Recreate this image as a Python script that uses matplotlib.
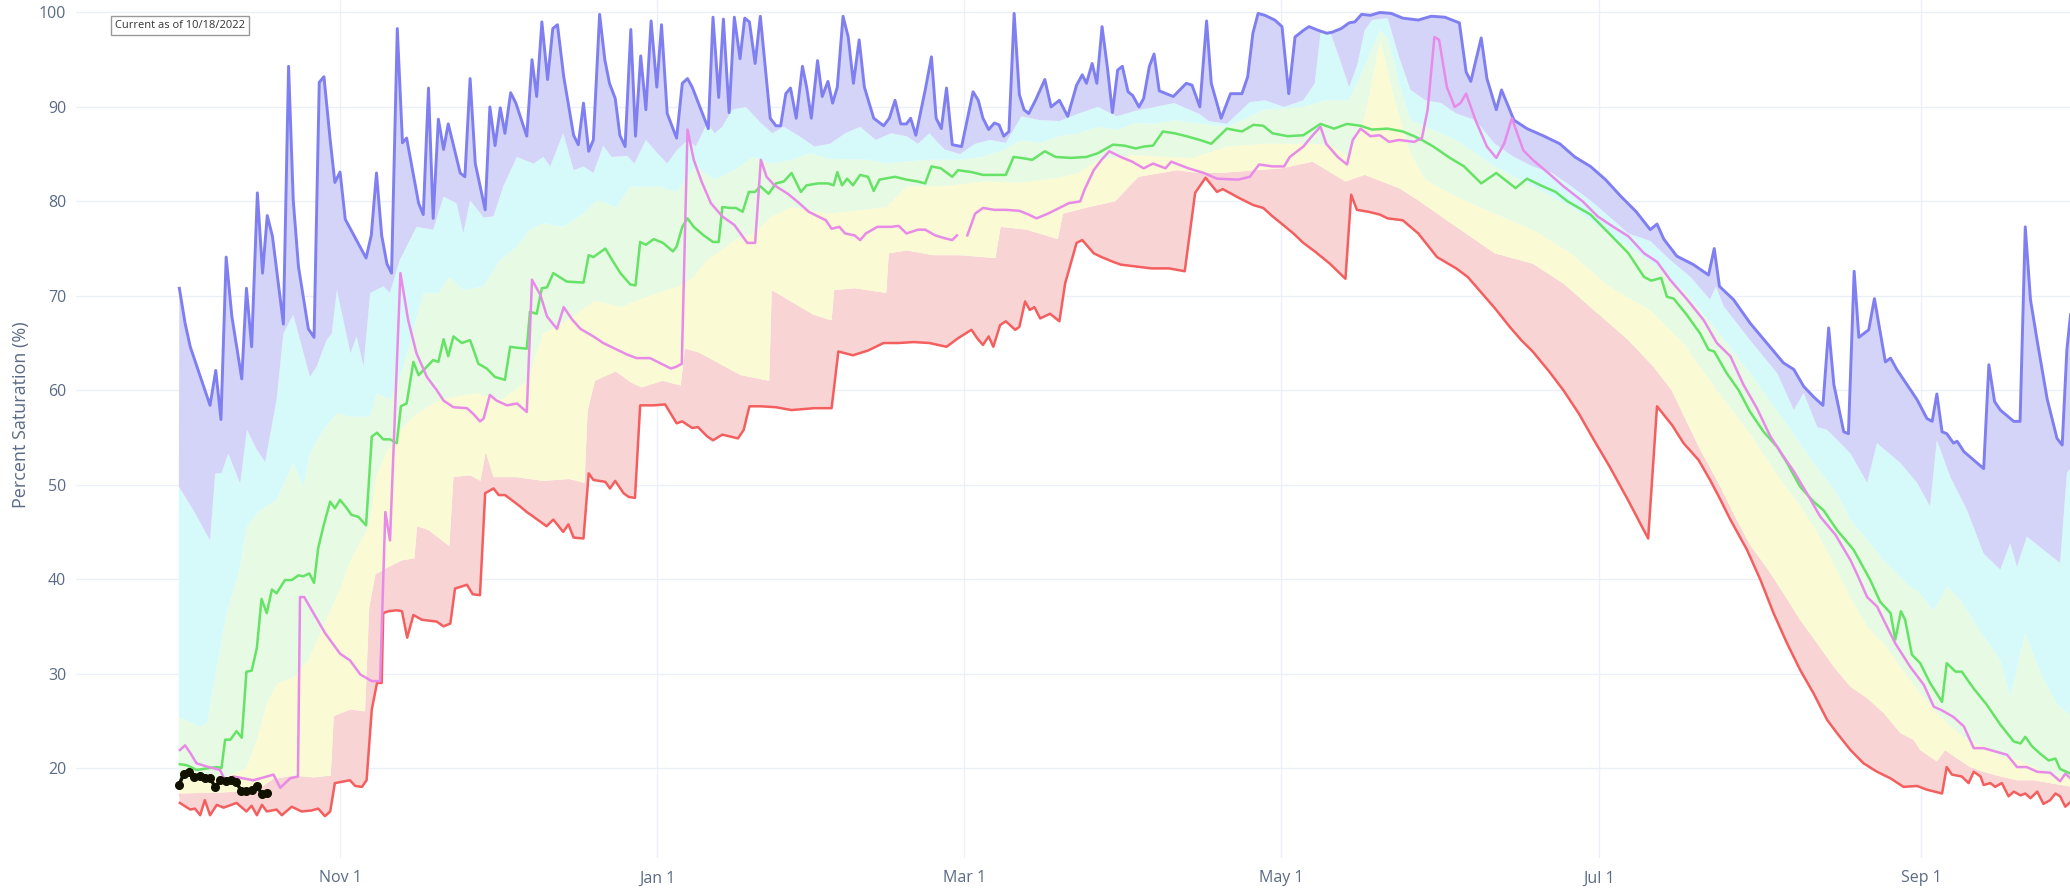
import numpy as np
import matplotlib
matplotlib.use("Agg")
import matplotlib.pyplot as plt
import matplotlib.dates as mdates

plt.rcParams['font.family'] = ['Open Sans', 'DejaVu Sans']

# day 0 = Oct 1 of the water year, values in percent saturation
START = np.datetime64('2022-10-01')

max_line = [(0.1, 70.8), (1.2, 67.1), (2.2, 64.6), (6.0, 58.4), (7.1, 62.1), (8.1, 56.9), (9.1, 74.1), (10.2, 67.8),
            (12.1, 61.2), (13.0, 70.8), (14.0, 64.6), (15.1, 80.9), (16.1, 72.4), (17.0, 78.5), (18.0, 76.3),
            (20.1, 67.0), (21.1, 94.3), (22.0, 80.1), (23.0, 73.1), (24.9, 66.5), (26.0, 65.6), (27.0, 92.6),
            (27.9, 93.2), (29.1, 86.5), (30.0, 82.0), (31.0, 83.1), (32.0, 78.1), (36.0, 74.0), (37.0, 76.4),
            (38.0, 83.0), (39.0, 76.4), (40.0, 73.4), (40.9, 72.4), (42.0, 98.3), (43.0, 86.2), (43.8, 86.7),
            (46.1, 79.8), (47.0, 78.6), (48.0, 92.0), (48.9, 78.2), (49.9, 88.7), (50.9, 85.5), (51.8, 88.2),
            (54.1, 83.0), (55.0, 82.6), (56.0, 93.0), (57.0, 84.0), (58.9, 79.1), (59.8, 90.0), (60.8, 85.9),
            (61.8, 89.9), (62.7, 87.2), (63.8, 91.5), (64.8, 90.4), (66.9, 86.9), (67.9, 95.0), (68.8, 91.1),
            (69.8, 99.0), (70.9, 92.9), (71.9, 98.3), (72.8, 98.7), (74.0, 93.2), (75.9, 87.0), (76.8, 86.0),
            (77.8, 90.4), (78.8, 85.3), (79.7, 86.5), (80.9, 99.8), (81.9, 95.0), (82.8, 92.5), (83.9, 90.9),
            (84.8, 87.0), (85.8, 85.8), (86.9, 98.2), (87.8, 86.9), (88.8, 95.4), (89.8, 89.7), (90.8, 99.1),
            (91.9, 92.1), (92.8, 98.7), (93.9, 89.3), (95.7, 86.7), (96.8, 92.5), (97.8, 93.0), (98.7, 92.1),
            (101.8, 87.7), (102.7, 99.5), (103.8, 91.0), (104.7, 99.3), (105.8, 89.4), (106.8, 99.5),
            (107.9, 95.1), (108.8, 99.4), (109.7, 99.0), (110.8, 94.6), (111.8, 99.6), (113.7, 88.8),
            (114.8, 88.0), (115.7, 88.0), (116.7, 91.4), (117.6, 92.0), (118.7, 88.8), (119.9, 94.3),
            (120.7, 92.1), (121.6, 88.8), (122.8, 94.9), (123.7, 91.1), (124.8, 92.7), (125.7, 90.4),
            (126.6, 92.1), (127.7, 99.6), (128.7, 97.4), (129.7, 92.5), (130.8, 97.1), (131.8, 92.1),
            (133.6, 88.8), (135.5, 88.0), (136.6, 88.8), (137.7, 90.7), (138.8, 88.2), (139.9, 88.2),
            (140.7, 88.8), (141.7, 87.0), (143.5, 91.8), (144.7, 95.3), (145.6, 88.8), (146.6, 87.7),
            (147.6, 92.0), (148.7, 86.0), (150.5, 85.8), (152.7, 91.6), (153.7, 90.7), (154.6, 88.8),
            (155.7, 87.6), (156.8, 88.3), (157.7, 88.1), (158.6, 86.9), (159.6, 87.4), (160.6, 99.9),
            (161.6, 91.3), (162.5, 89.7), (163.4, 89.3), (164.7, 90.7), (166.5, 92.9), (167.7, 90.0),
            (169.3, 90.7), (170.9, 89.0), (172.6, 92.3), (173.7, 93.4), (174.5, 92.5), (175.6, 94.6),
            (176.5, 92.5), (177.5, 98.5), (178.5, 94.3), (179.5, 89.4), (180.5, 93.9), (181.4, 94.3),
            (182.5, 91.6), (183.4, 91.2), (184.6, 90.0), (185.5, 90.9), (186.6, 94.3), (187.5, 95.6),
            (188.5, 91.7), (191.2, 91.1), (193.7, 92.5), (194.8, 92.3), (196.3, 90.0), (197.6, 99.1),
            (198.5, 92.5), (200.4, 88.8), (202.2, 91.4), (204.4, 91.4), (205.5, 93.2), (206.5, 97.8),
            (207.5, 99.9), (208.8, 99.7), (210.7, 99.2), (212.1, 98.5), (213.4, 91.4), (214.6, 97.4),
            (216.2, 98.1), (217.3, 98.5), (219.1, 98.1), (220.7, 97.8), (221.7, 97.9), (223.5, 98.3),
            (225.0, 98.9), (226.1, 99.0), (227.4, 99.8), (229.1, 99.7), (230.9, 100.0), (233.1, 99.9),
            (235.3, 99.4), (238.3, 99.2), (240.8, 99.6), (243.4, 99.5), (246.2, 98.9), (247.5, 93.7),
            (248.4, 92.7), (250.4, 97.3), (251.5, 93.0), (253.3, 89.7), (254.3, 91.8), (256.7, 88.6),
            (259.2, 87.7), (262.5, 86.9), (265.5, 86.1), (268.4, 84.7), (271.4, 83.7), (274.3, 82.3),
            (277.3, 80.5), (280.2, 78.9), (282.9, 77.0), (284.2, 77.6), (285.5, 76.0), (288.0, 74.2),
            (291.2, 73.3), (294.1, 72.2), (295.2, 75.0), (296.2, 71.0), (298.9, 69.6), (302.1, 67.1),
            (305.3, 65.0), (308.5, 62.9), (310.5, 62.2), (312.4, 60.4), (314.3, 59.3), (316.1, 58.4),
            (317.2, 66.6), (318.2, 60.6), (320.1, 55.6), (321.0, 55.4), (322.1, 72.6), (323.0, 65.6),
            (324.9, 66.4), (326.0, 69.7), (328.1, 63.0), (329.1, 63.4), (330.3, 62.2), (334.2, 59.0),
            (336.1, 57.0), (337.1, 56.7), (338.0, 59.6), (339.0, 55.6), (339.9, 55.4), (341.2, 54.4),
            (341.9, 54.6), (343.2, 53.5), (347.0, 51.7), (348.0, 62.7), (349.1, 58.8), (350.2, 57.9),
            (352.8, 56.7), (354.0, 56.7), (355.0, 77.3), (356.0, 69.6), (357.3, 65.2), (359.2, 59.1),
            (361.1, 54.9), (362.1, 54.2), (363.0, 64.3), (363.7, 68.0)]

min_line = [(0.2, 16.3), (2.2, 15.6), (3.1, 15.7), (4.1, 15.0), (5.0, 16.6), (6.0, 15.0), (7.3, 16.1), (8.6, 15.8),
            (11.1, 16.3), (13.0, 15.4), (14.0, 16.0), (15.0, 15.0), (16.0, 16.1), (16.9, 15.4), (18.8, 15.6),
            (19.8, 15.0), (21.7, 15.9), (23.6, 15.4), (25.5, 15.5), (26.8, 15.7), (28.1, 14.9), (29.1, 15.4),
            (30.0, 18.4), (32.9, 18.7), (33.9, 18.1), (35.2, 18.0), (36.1, 18.7), (37.1, 26.2), (38.1, 29.0),
            (39.0, 29.0), (39.3, 36.4), (40.3, 36.6), (41.9, 36.7), (42.9, 36.6), (43.9, 33.8), (45.1, 36.2),
            (46.7, 35.7), (49.6, 35.5), (50.9, 35.0), (52.2, 35.3), (53.1, 39.0), (55.4, 39.4), (56.5, 38.4),
            (57.9, 38.3), (58.9, 49.1), (60.5, 49.6), (61.5, 48.9), (62.7, 48.9), (63.7, 48.5), (65.6, 47.7),
            (66.9, 47.1), (68.2, 46.6), (70.7, 45.6), (72.0, 46.3), (73.9, 45.0), (74.9, 45.8), (75.9, 44.4),
            (77.8, 44.3), (78.8, 51.2), (79.7, 50.5), (82.0, 50.3), (82.9, 49.6), (83.9, 50.4), (85.5, 49.1),
            (86.5, 48.7), (87.7, 48.6), (88.7, 58.4), (91.3, 58.4), (93.5, 58.5), (94.6, 57.5), (95.7, 56.5),
            (96.8, 56.7), (98.7, 56.0), (99.8, 56.1), (101.6, 55.1), (102.7, 54.7), (104.5, 55.3),
            (107.5, 54.9), (108.6, 55.8), (109.7, 58.3), (111.9, 58.3), (114.8, 58.2), (117.8, 57.9),
            (122.2, 58.1), (125.5, 58.1), (126.8, 64.1), (129.6, 63.7), (132.5, 64.2), (135.5, 65.0),
            (138.4, 65.0), (141.3, 65.1), (144.3, 65.0), (147.6, 64.6), (149.8, 65.5), (152.4, 66.4),
            (153.5, 65.5), (154.6, 64.8), (155.7, 65.7), (156.6, 64.6), (157.9, 66.9), (159.0, 67.3),
            (160.8, 66.4), (161.6, 66.7), (162.7, 69.4), (163.6, 68.5), (164.5, 68.8), (165.6, 67.6),
            (167.5, 68.1), (169.3, 67.3), (170.4, 71.3), (172.6, 75.6), (173.7, 75.9), (175.9, 74.5),
            (177.4, 74.1), (179.6, 73.6), (181.1, 73.3), (184.0, 73.1), (187.0, 72.9), (190.4, 72.9),
            (193.4, 72.6), (195.4, 80.9), (197.4, 82.5), (199.6, 81.0), (200.7, 81.3), (203.7, 80.4),
            (206.6, 79.6), (208.5, 79.3), (210.3, 78.4), (212.1, 77.6), (214.3, 76.6), (216.2, 75.6),
            (218.4, 74.7), (221.3, 73.4), (224.3, 71.8), (225.4, 80.7), (226.5, 79.1), (228.7, 78.9),
            (230.9, 78.6), (232.4, 78.2), (235.3, 78.0), (238.3, 76.6), (241.9, 74.1), (245.6, 72.9),
            (247.8, 72.0), (250.0, 70.6), (253.0, 68.7), (255.9, 66.7), (258.1, 65.3), (260.3, 64.1),
            (263.3, 62.1), (266.2, 60.0), (269.2, 57.5), (272.1, 54.7), (275.0, 52.0), (278.5, 48.5),
            (282.5, 44.3), (284.2, 58.3), (287.1, 56.3), (289.3, 54.4), (292.2, 52.6), (294.4, 50.5),
            (296.4, 48.4), (298.3, 46.3), (301.5, 43.1), (304.1, 39.9), (306.6, 36.4), (309.2, 33.2),
            (311.7, 30.4), (314.3, 27.9), (316.9, 25.1), (318.8, 23.7), (321.4, 21.9), (323.9, 20.5),
            (326.5, 19.6), (329.1, 18.9), (331.6, 18.0), (334.2, 18.1), (336.1, 17.7), (339.0, 17.3),
            (339.9, 20.1), (340.9, 19.3), (342.8, 19.1), (344.1, 18.4), (345.1, 19.6), (346.4, 19.1),
            (347.0, 18.2), (348.3, 18.4), (349.2, 18.0), (350.5, 18.4), (351.8, 17.0), (352.8, 17.5),
            (354.1, 17.1), (355.0, 17.3), (356.0, 16.8), (357.3, 17.5), (358.5, 16.2), (359.8, 16.6),
            (360.8, 17.3), (361.7, 17.0), (362.7, 15.9), (363.7, 16.4)]

mean_line = [(0.2, 20.4), (1.5, 20.3), (3.4, 19.8), (6.0, 20.0), (7.3, 20.1), (8.2, 20.0), (8.9, 23.0), (9.9, 23.0),
             (11.1, 23.9), (12.1, 23.2), (13.0, 30.2), (14.0, 30.3), (15.0, 32.7), (15.9, 37.9), (16.9, 36.4),
             (17.9, 38.9), (18.8, 38.5), (20.4, 39.9), (21.7, 39.9), (23.0, 40.4), (23.9, 40.3), (25.1, 40.6),
             (26.0, 39.6), (26.8, 43.3), (27.8, 45.6), (29.1, 48.2), (30.0, 47.5), (31.0, 48.4), (32.3, 47.5),
             (33.2, 46.8), (34.5, 46.6), (36.0, 45.7), (37.1, 55.1), (38.1, 55.5), (39.3, 54.8), (40.6, 54.8),
             (41.9, 54.4), (42.7, 58.3), (43.8, 58.6), (45.1, 63.0), (46.1, 61.6), (47.7, 62.5), (48.9, 63.2),
             (49.9, 63.0), (50.9, 65.4), (51.8, 63.6), (52.8, 65.7), (54.4, 65.0), (56.0, 65.3), (57.6, 62.8),
             (59.2, 62.3), (60.8, 61.4), (62.7, 61.1), (63.7, 64.6), (65.0, 64.5), (66.9, 64.4), (67.5, 68.3),
             (68.8, 68.1), (69.8, 70.8), (70.8, 70.9), (72.0, 72.4), (74.6, 71.5), (77.8, 71.4), (78.8, 74.3),
             (79.7, 74.1), (82.0, 75.0), (83.3, 73.8), (84.9, 72.4), (86.8, 71.2), (87.8, 71.1), (88.7, 75.7),
             (89.8, 75.4), (91.3, 76.0), (93.1, 75.6), (95.0, 74.7), (95.7, 75.2), (96.8, 77.3), (97.8, 78.2),
             (99.0, 77.3), (100.9, 76.4), (102.7, 75.7), (103.8, 75.7), (104.5, 79.4), (106.0, 79.3),
             (107.1, 79.3), (108.4, 78.9), (109.6, 81.0), (110.8, 81.0), (111.8, 81.6), (113.4, 80.8),
             (114.8, 81.9), (116.3, 82.1), (117.8, 83.0), (119.6, 81.0), (120.7, 81.7), (122.9, 81.9),
             (124.8, 81.9), (125.9, 81.7), (126.6, 83.1), (127.5, 81.7), (128.5, 82.4), (129.6, 81.7),
             (131.0, 82.8), (132.5, 82.6), (133.6, 81.1), (134.7, 82.3), (137.7, 82.6), (139.9, 82.3),
             (142.1, 82.1), (143.5, 81.9), (144.7, 83.7), (146.5, 83.5), (148.7, 82.6), (149.8, 83.3),
             (152.4, 83.1), (154.6, 82.8), (156.8, 82.8), (159.0, 82.8), (160.5, 84.7), (161.9, 84.6),
             (164.1, 84.4), (166.5, 85.3), (168.6, 84.7), (171.5, 84.6), (174.5, 84.7), (176.7, 85.1),
             (179.6, 86.0), (181.8, 85.9), (184.0, 85.6), (185.5, 85.8), (187.3, 85.9), (189.2, 87.4),
             (191.5, 87.2), (193.7, 86.9), (196.3, 86.5), (198.5, 86.1), (201.5, 87.7), (204.4, 87.4),
             (206.6, 88.1), (208.5, 88.0), (210.3, 87.2), (213.2, 86.9), (216.2, 87.0), (219.5, 88.2),
             (222.1, 87.7), (224.6, 88.2), (227.2, 88.0), (229.4, 87.6), (232.4, 87.7), (235.3, 87.4),
             (237.5, 86.9), (239.0, 86.5), (241.2, 85.8), (244.1, 84.7), (247.1, 83.7), (250.4, 81.9),
             (253.3, 83.0), (257.0, 81.4), (259.2, 82.4), (261.8, 81.7), (264.7, 81.0), (267.0, 80.0),
             (271.4, 78.6), (275.0, 76.6), (278.7, 74.5), (281.7, 72.0), (283.1, 71.6), (285.0, 71.9),
             (286.1, 69.9), (287.4, 69.7), (289.9, 68.0), (292.5, 66.0), (294.1, 64.3), (295.2, 64.1),
             (297.6, 61.8), (299.9, 60.0), (302.1, 57.7), (304.7, 55.6), (307.3, 54.0), (309.2, 52.3),
             (311.7, 49.8), (314.3, 48.2), (316.2, 47.3), (318.8, 45.2), (322.0, 43.1), (325.2, 39.9),
             (327.1, 37.6), (329.1, 36.4), (330.0, 33.6), (331.1, 36.6), (331.9, 35.7), (333.2, 32.0),
             (334.8, 31.1), (336.7, 29.0), (339.0, 27.0), (339.9, 31.1), (341.6, 30.2), (342.8, 30.2),
             (345.1, 28.4), (347.6, 26.7), (350.2, 24.6), (352.8, 22.8), (354.1, 22.6), (355.0, 23.3),
             (356.3, 22.3), (357.9, 21.5), (359.5, 20.8), (360.8, 21.0), (361.7, 19.9), (363.7, 19.4)]

last_year = [(0.2, 21.9), (1.2, 22.4), (2.2, 21.6), (3.4, 20.5), (5.7, 20.1), (7.9, 19.8), (8.9, 18.7), (10.5, 19.1),
             (12.4, 18.9), (14.3, 18.7), (16.3, 19.0), (18.2, 19.3), (19.5, 17.9), (21.4, 18.9), (22.9, 19.1),
             (23.3, 38.1), (24.1, 38.1), (25.9, 36.4), (28.1, 34.3), (31.0, 32.1), (32.9, 31.4), (34.9, 29.9),
             (37.1, 29.2), (38.7, 29.2), (39.7, 47.1), (40.6, 44.1), (42.6, 72.4), (44.1, 67.4), (45.7, 63.9),
             (47.7, 61.4), (49.6, 60.0), (50.9, 58.9), (52.8, 58.2), (55.4, 58.1), (56.6, 57.5), (57.9, 56.7),
             (58.6, 57.0), (59.8, 59.5), (61.1, 58.9), (63.1, 58.4), (65.0, 58.6), (66.9, 57.7), (67.9, 71.7),
             (69.5, 70.1), (70.8, 67.8), (72.7, 66.5), (74.0, 68.8), (75.6, 67.5), (77.2, 66.5), (79.7, 65.7),
             (81.6, 65.0), (84.2, 64.3), (86.1, 63.8), (88.0, 63.4), (90.6, 63.4), (92.8, 62.8), (94.6, 62.3),
             (95.7, 62.5), (96.7, 62.8), (97.8, 87.6), (99.0, 84.4), (100.5, 82.1), (102.3, 79.8),
             (104.5, 78.4), (106.8, 77.5), (109.3, 75.6), (110.8, 75.6), (111.9, 84.4), (113.0, 82.6),
             (114.5, 81.7), (117.1, 80.8), (119.3, 79.8), (121.1, 78.9), (122.9, 78.4), (124.4, 78.0),
             (125.5, 77.1), (127.0, 77.3), (128.1, 76.6), (129.9, 76.4), (131.0, 75.9), (132.1, 76.6),
             (134.3, 77.3), (136.9, 77.3), (138.4, 77.4), (139.9, 76.6), (142.1, 77.0), (143.5, 77.0),
             (145.4, 76.4), (147.2, 76.1), (148.7, 75.9), (149.6, 76.4), (150.6, np.nan), (151.6, 76.4),
             (153.1, 78.7), (154.6, 79.3), (156.8, 79.1), (159.0, 79.1), (161.6, 79.0), (163.4, 78.6),
             (164.9, 78.2), (167.1, 78.7), (169.3, 79.3), (171.1, 79.8), (173.3, 80.0), (174.1, 81.2),
             (175.9, 83.3), (177.4, 84.4), (178.9, 85.3), (181.1, 84.7), (183.3, 84.2), (185.5, 83.5),
             (187.3, 84.0), (189.7, 83.5), (190.8, 84.2), (194.1, 83.5), (197.1, 83.0), (199.6, 82.4),
             (203.7, 82.3), (205.9, 82.6), (207.7, 83.9), (210.3, 83.7), (212.5, 83.7), (213.6, 84.7),
             (216.2, 85.8), (218.0, 87.0), (219.5, 87.9), (220.6, 86.1), (222.8, 84.7), (224.6, 83.9),
             (225.7, 86.5), (227.2, 87.7), (229.1, 86.9), (230.9, 87.0), (232.7, 86.3), (234.6, 86.5),
             (237.5, 86.3), (239.0, 86.7), (240.1, 89.7), (241.4, 97.4), (242.3, 97.1), (243.8, 92.1),
             (245.3, 90.0), (246.4, 90.4), (247.5, 91.4), (249.3, 88.6), (251.5, 85.8), (253.3, 84.6),
             (254.8, 86.1), (256.3, 88.8), (258.5, 85.4), (260.3, 84.4), (263.3, 83.0), (266.2, 81.6),
             (269.9, 80.0), (272.8, 78.4), (275.8, 77.3), (278.7, 76.3), (281.7, 74.5), (284.2, 73.6),
             (286.7, 71.7), (290.0, 69.6), (293.2, 67.4), (295.7, 65.0), (298.3, 63.6), (300.8, 60.6),
             (303.4, 58.1), (306.0, 55.1), (308.5, 53.0), (310.5, 51.4), (313.0, 49.1), (315.6, 46.6),
             (318.5, 44.7), (321.4, 42.0), (322.6, 40.6), (324.6, 38.1), (326.5, 37.1), (330.0, 33.2),
             (332.9, 30.7), (335.5, 28.8), (337.4, 26.5), (339.0, 26.1), (341.2, 25.4), (343.2, 24.4),
             (345.1, 22.1), (347.0, 22.1), (349.6, 21.7), (351.5, 21.4), (353.4, 20.1), (355.3, 20.1),
             (357.3, 19.6), (359.8, 19.5), (361.7, 18.6), (362.7, 19.4), (363.7, 18.9)]

current = [(0, 18.2), (1, 19.4), (2, 19.6), (3, 19.0), (4, 19.1), (5, 18.9), (6, 18.9), (7, 18.0), (8, 18.7),
           (9, 18.6), (10, 18.7), (11, 18.5), (12, 17.6), (13, 17.6), (14, 17.7), (15, 18.1), (16, 17.2), (17, 17.3)]

# percentile envelopes (upper edges of the shaded bands)
p10 = [(0, 17.3), (8, 17.4), (14, 17.6), (16, 18.0), (18, 18.8), (22, 19.2), (26, 19.0), (29.2, 19.2), (29.8, 25.5),
       (33, 26.2), (35.8, 26.0), (36.6, 37.0), (37.8, 40.5), (40, 41.2), (43, 42.0), (45.3, 42.2), (45.8, 45.6),
       (48, 45.2), (52, 43.5), (52.8, 50.8), (56, 51.0), (58, 50.4), (59, 53.5), (60.5, 50.8), (65, 50.8),
       (70, 50.4), (75, 50.6), (78, 50.2), (78.6, 57.8), (80, 61.0), (84, 62.0), (87, 60.8), (89, 60.3),
       (93, 61.0), (96.5, 60.5), (97.3, 64.4), (100, 64.0), (104, 62.8), (108, 61.6), (113.5, 61.0),
       (114, 70.6), (118, 69.3), (122, 68.0), (125.5, 67.4), (126, 70.6), (130, 70.8), (136, 70.3),
       (136.5, 74.5), (140, 74.8), (145, 74.3), (150, 74.3), (157, 74.0), (158, 77.3), (163, 77.0), (169, 76.0),
       (170, 78.7), (175, 79.4), (180, 80.0), (184.5, 82.6), (192, 83.3), (196, 83.0), (200, 83.0), (205, 83.2),
       (212, 83.5), (218, 84.2), (224.3, 82.1), (228, 82.8), (234.6, 81.4), (238.3, 80.1), (245.6, 77.3),
       (253, 74.5), (260.3, 73.4), (266.2, 71.3), (271.4, 68.8), (278.7, 65.3), (283.5, 62.5), (287, 60.0),
       (292.5, 53.7), (295.7, 50.5), (299.6, 46.2), (302.1, 43.6), (305.3, 41.2), (308.5, 38.5), (311.7, 35.7),
       (315, 33.2), (318.2, 30.7), (321.4, 28.6), (324.6, 27.4), (327.8, 25.8), (331, 23.7), (333.5, 23.0),
       (334.8, 21.9), (338, 20.7), (339.6, 21.9), (341.9, 21.0), (344.4, 20.1), (347, 19.6), (350.2, 19.1),
       (353.4, 18.7), (356.6, 18.7), (359.8, 18.4), (364, 18.0)]

p30 = [(0, 18.8), (5, 18.8), (9, 19.0), (13, 20.0), (15, 23.0), (17, 27.0), (19, 29.0), (22, 29.6), (25, 31.5),
       (27, 34.0), (29, 36.5), (31, 39.0), (33, 42.0), (35, 44.0), (36.5, 45.6), (38, 51.0), (40, 53.5),
       (43, 56.0), (45, 57.2), (50, 59.0), (57, 59.7), (62, 59.0), (67, 61.0), (70, 66.0), (75, 67.5),
       (80, 69.5), (85, 68.8), (88, 69.5), (92, 70.3), (96, 71.0), (99, 72.0), (101.6, 73.8), (107, 75.9),
       (110.4, 76.6), (114, 78.4), (117.8, 79.4), (125, 78.7), (130, 79.0), (136, 79.4), (140, 81.6),
       (147, 81.6), (154.6, 82.1), (162, 82.0), (169, 82.5), (173, 83.0), (176.7, 84.4), (184, 84.9),
       (190, 84.7), (195, 84.6), (201.5, 85.8), (208.8, 86.1), (216.2, 86.1), (221.3, 86.0), (225, 84.7),
       (228, 89.0), (231, 97.1), (233.8, 90.7), (236.8, 85.1), (239.7, 82.3), (245.6, 80.5), (253, 78.7),
       (260.3, 77.0), (267.7, 74.5), (275, 71.0), (282.9, 68.5), (289.3, 65.0), (295.7, 60.0), (302.1, 55.4),
       (308.5, 50.1), (311.7, 47.8), (315, 45.0), (318.2, 41.6), (321.4, 38.1), (324.6, 35.0), (327.8, 33.2),
       (331, 30.7), (334.2, 28.3), (337.4, 26.2), (340.6, 24.4), (343.8, 23.0), (347, 22.3), (350.2, 21.2),
       (353.4, 20.9), (356.6, 20.1), (359.8, 19.4), (364, 19.1)]

p70 = [(0, 25.4), (4, 24.4), (5.5, 24.8), (7.3, 30.7), (9.2, 36.4), (11.8, 41.3), (13.1, 45.6), (15.6, 47.3),
       (18.8, 48.4), (22, 52.3), (24, 49.8), (25.2, 53.3), (27.8, 55.8), (30.4, 57.6), (33, 57.2), (36.8, 57.2),
       (38, 59.7), (40.6, 59.0), (43.2, 62.5), (47, 70.3), (50, 70.3), (52, 72.0), (54.7, 70.6), (58.6, 71.0),
       (61.8, 73.8), (65, 75.2), (67.5, 77.0), (70.1, 77.7), (74, 77.3), (77.8, 78.7), (80.4, 80.1),
       (84.2, 79.4), (86.8, 81.6), (90, 81.5), (92, 81.6), (95.7, 81.0), (99.4, 83.7), (103, 82.3),
       (106.8, 83.3), (110.4, 84.7), (114.1, 84.0), (117.8, 84.4), (121.5, 85.1), (125, 84.5), (132.5, 84.4),
       (136.2, 84.0), (143.5, 84.4), (150, 84.4), (154.6, 84.7), (158.3, 85.4), (162, 86.5), (165.6, 86.2),
       (169.3, 86.9), (173, 87.2), (176.7, 87.9), (180.4, 87.6), (184, 88.3), (187.7, 88.2), (191.4, 88.6),
       (194, 88.4), (201.5, 87.9), (208.8, 89.7), (216.2, 90.0), (220.5, 90.7), (225, 90.7), (228, 94.3),
       (230.9, 98.1), (232.4, 97.4), (234.6, 92.5), (236.8, 88.6), (239.7, 87.9), (245.6, 86.5), (253, 83.7),
       (260.3, 81.6), (267.7, 79.4), (275, 76.6), (282.9, 73.6), (289.3, 70.6), (295.7, 66.4), (302.1, 61.8),
       (308.5, 56.9), (314.9, 51.9), (318.8, 49.1), (321.4, 46.3), (327.8, 42.0), (332.9, 39.2), (334.2, 38.8),
       (337.4, 36.7), (340, 39.2), (342.5, 37.8), (345.7, 35.0), (350.2, 31.4), (352.1, 27.6), (355, 34.3),
       (357.9, 30.0), (361.1, 26.8), (364, 25.4)]

p90 = [(0, 49.8), (2.8, 47.3), (6, 44.1), (7, 51.2), (8.2, 51.2), (9.5, 53.3), (11.8, 50.1), (13.1, 55.8),
       (15, 53.7), (16.6, 52.4), (18.8, 59.0), (20.1, 66.0), (22, 68.0), (25.2, 61.4), (26.5, 62.5), (28.4, 65.3),
       (29.4, 66.0), (30.4, 70.6), (33, 63.9), (34.2, 65.7), (35.5, 62.5), (36.8, 70.3), (39.3, 71.0),
       (40.6, 70.3), (42.5, 73.8), (45.7, 77.3), (48.9, 77.0), (50.9, 80.5), (53.4, 79.8), (54.7, 76.6),
       (56, 80.1), (58.6, 78.3), (60.5, 78.4), (62.4, 81.6), (65, 84.7), (68.2, 84.0), (70.1, 84.7), (71.4, 83.7),
       (73.9, 87.2), (75.9, 83.3), (77.8, 83.7), (79.7, 83.0), (81.6, 85.9), (83.2, 84.7), (86.2, 84.8),
       (87.6, 84.0), (89.8, 86.5), (92, 85.1), (93.9, 84.0), (95.7, 85.4), (97.9, 86.5), (99.4, 85.8),
       (101.6, 88.3), (103, 87.2), (104.5, 87.9), (106.4, 89.7), (109, 90.0), (111.9, 88.3), (114.1, 87.2),
       (116.3, 87.9), (119.3, 86.9), (122.2, 85.8), (125.2, 86.1), (128.1, 87.2), (131, 87.9), (134, 86.5),
       (136.9, 87.2), (139.9, 86.9), (142.1, 86.1), (144.3, 87.2), (147.2, 85.5), (150.2, 85.0), (153.1, 86.1),
       (156, 86.5), (159, 86.2), (162, 89.0), (165.6, 88.6), (169.3, 88.5), (173, 89.3), (176.7, 90.0),
       (180.4, 89.0), (184, 89.6), (187.7, 90.0), (191.4, 90.4), (196.4, 89.2), (198, 88.5), (201.5, 88.2),
       (205.9, 90.5), (208.8, 90.7), (212.5, 90.0), (216.2, 90.7), (218.4, 92.5), (219.5, 97.8), (221.3, 98.0),
       (222.8, 95.7), (225, 92.1), (226.5, 94.3), (228, 98.1), (229.4, 99.2), (232.4, 99.4), (234.6, 95.3),
       (236.8, 91.8), (239.7, 90.7), (242.7, 90.4), (245.6, 89.3), (249.3, 88.6), (253, 86.1), (256.7, 84.7),
       (260.3, 83.7), (264, 83.0), (267.7, 81.6), (271.4, 80.1), (275, 78.4), (278.7, 76.6), (282.9, 75.8),
       (286.7, 73.8), (290.6, 72.0), (294.4, 69.6), (295.5, 71.0), (297, 68.9), (302.1, 65.3), (307.3, 61.8),
       (310.5, 57.9), (312.4, 59.7), (315, 56.1), (316.9, 55.8), (321.4, 53.3), (324.6, 50.2), (326.5, 54.4),
       (331, 52.3), (334.2, 50.2), (336.7, 47.7), (338, 54.7), (340.6, 50.8), (343.8, 47.3), (347, 42.7),
       (350.2, 41.0), (352.1, 43.8), (353.4, 41.3), (355.3, 44.5), (358.5, 43.1), (361.7, 41.7), (363, 51.2),
       (364, 52.0)]

TICK_COLOR = '#5b6b85'


def to_x(series):
    arr = np.array(series, dtype=float)
    return mdates.date2num(START) + arr[:, 0], arr[:, 1]


W, H = 2070, 890
fig = plt.figure(figsize=(W / 100, H / 100), dpi=100)
ax = fig.add_axes([76 / W, 32 / H, 1 - 76 / W, 858 / H])


def band(lower, upper, color):
    lx, ly = to_x(lower)
    ux, uy = to_x(upper)
    ax.fill(np.concatenate([ux, lx[::-1]]), np.concatenate([uy, ly[::-1]]),
            color=color, lw=0, zorder=1)


band(min_line, p10, '#f8d4d4')
band(p10, p30, '#fafad4')
band(p30, p70, '#e6fae4')
band(p70, p90, '#d6fafa')
band(p90, max_line, '#d4d4f8')

for series, col, lw in [(max_line, '#7f7ff2', 2.1), (min_line, '#f45e5e', 1.8),
                        (mean_line, '#66e266', 1.8), (last_year, '#e88be8', 1.8)]:
    x, y = to_x(series)
    ax.plot(x, y, color=col, lw=lw, zorder=3)

cx, cy = to_x(current)
ax.plot(cx, cy, color='#111100', lw=2.5, marker='o', ms=5.5, zorder=4)

ax.set_xlim(mdates.date2num(START) - 19.77, mdates.date2num(START) + 363.6)
ax.set_ylim(10.47, 101.32)
ax.set_yticks(range(20, 101, 10))
ax.xaxis.set_major_locator(mdates.MonthLocator(bymonth=[1, 3, 5, 7, 9, 11]))
ax.xaxis.set_major_formatter(mdates.DateFormatter('%b %-d'))
ax.set_axisbelow(True)
ax.grid(color='#ebf0f8', lw=1)
ax.tick_params(length=0, colors=TICK_COLOR, labelsize=11.5)
ax.tick_params(axis='y', pad=7)
ax.tick_params(axis='x', pad=9)
for s in ax.spines.values():
    s.set_visible(False)

fig.text(21 / W, 1 - 414.5 / H, 'Percent Saturation (%)', rotation=90, ha='center', va='center',
         fontsize=13, color=TICK_COLOR)
fig.text(180 / W, 1 - 25.5 / H, 'Current as of 10/18/2022', ha='center', va='center', fontsize=8,
         color='#333333', bbox=dict(boxstyle='square,pad=0.35', fc='white', ec='#999999', lw=1))

fig.savefig('out.png', dpi=100)
